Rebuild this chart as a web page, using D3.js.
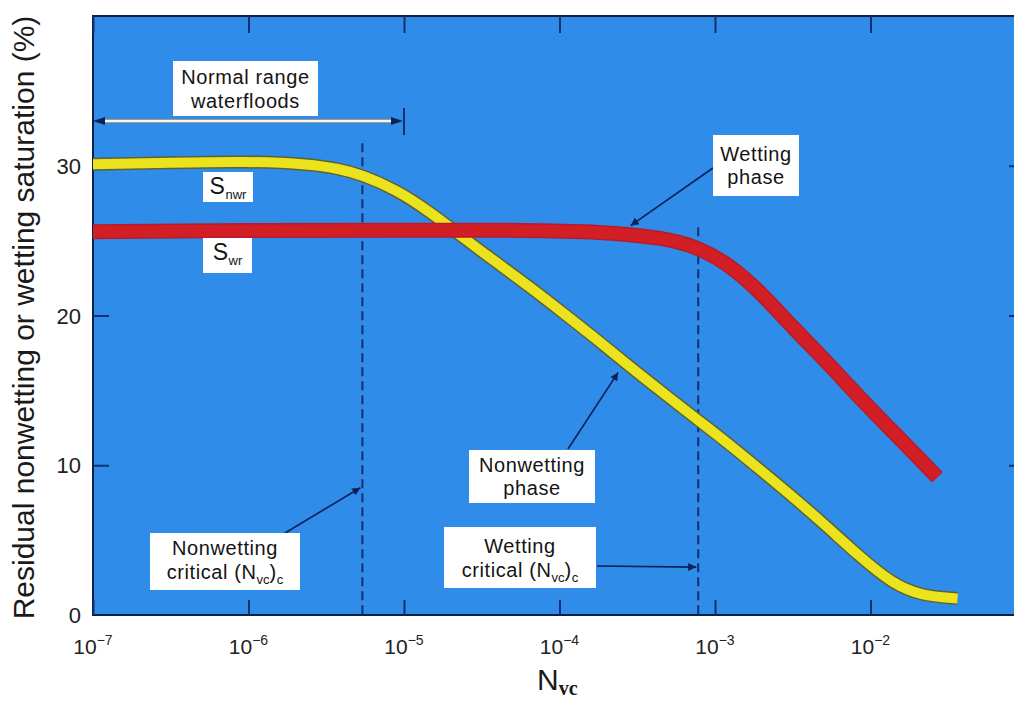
<!DOCTYPE html>
<html>
<head>
<meta charset="utf-8">
<script src="https://cdnjs.cloudflare.com/ajax/libs/d3/7.8.5/d3.min.js"></script>
<style>
  body { margin: 0; background: #fff; }
  svg { display: block; }
  .box text { font-family: "Liberation Sans", Arial, sans-serif; font-size: 20px; letter-spacing: 0.6px; fill: #141414; }
  .tick-label { font-family: "Liberation Sans", Arial, sans-serif; fill: #222; }
</style>
</head>
<body>
<div id="chart"></div>
<script>
// tick values
const xTickExps = [-7, -6, -5, -4, -3, -2];
const yTicks = [0, 10, 20, 30];

// S_nwr, nonwetting phase (yellow): log10(Nvc) and residual saturation (%)
const snwrLogN = [-7, -6.5, -6, -5.6, -5.42, -5.27, -5.05, -4.83, -4.62, -4.4, -4.19, -3.98, -3.76, -3.55, -3.33, -3.12, -2.92, -2.71, -2.5, -2.28, -2.07, -1.86, -1.68, -1.44];
const snwrSat = [30.1, 30.2, 30.3, 30.1, 29.8, 29.4, 28.4, 26.9, 25.2, 23.5, 21.9, 20.2, 18.4, 16.6, 14.8, 13.1, 11.5, 9.7, 7.9, 5.9, 3.9, 2.1, 1.3, 1.1];

// S_wr, wetting phase (red)
const swrLogN = [-7, -6, -5, -4.2, -3.74, -3.33, -3.12, -2.92, -2.71, -2.5, -2.28, -2.07, -1.86, -1.57];
const swrSat = [25.6, 25.7, 25.7, 25.7, 25.6, 25.2, 24.6, 23.5, 21.6, 19.2, 16.9, 14.5, 12.3, 9.2];

// critical capillary numbers (nonwetting, wetting) and the normal waterflood range
const criticalN = [5.4e-6, 7.8e-4];
const criticalTop = [31.5, 25.9];
const normalRange = [1e-7, 1e-5];

const width = 1014;
const height = 701;
const margin = { left: 93, top: 16, bottom: 86 };
const decade = 155.5;

const x = d3.scaleLog()
  .domain([1e-7, 1e-1])
  .range([margin.left, margin.left + 6 * decade]);
const y = d3.scaleLinear()
  .domain([0, 40])
  .range([height - margin.bottom, margin.top]);

const navy = "#10306f";

const svg = d3.select("#chart")
  .append("svg")
  .attr("width", width)
  .attr("height", height);

const defs = svg.append("defs");
defs.append("clipPath").attr("id", "plotClip")
  .append("rect")
  .attr("x", x.range()[0]).attr("y", y.range()[1])
  .attr("width", x.range()[1] - x.range()[0])
  .attr("height", y.range()[0] - y.range()[1]);

defs.append("marker")
  .attr("id", "arrow")
  .attr("viewBox", "0 0 10 10")
  .attr("refX", 10).attr("refY", 5)
  .attr("markerWidth", 11).attr("markerHeight", 8)
  .attr("markerUnits", "userSpaceOnUse")
  .attr("orient", "auto")
  .append("path")
  .attr("d", "M0,0 L10,5 L0,10 z")
  .attr("fill", "#0b2158");

// plot background
svg.append("rect")
  .attr("x", x.range()[0]).attr("y", y.range()[1])
  .attr("width", x.range()[1] - x.range()[0])
  .attr("height", y.range()[0] - y.range()[1])
  .attr("fill", "#2f8ce8")
  .attr("stroke", "#0d1f44")
  .attr("stroke-width", 2);

// ticks (inward, on all four sides)
const xTickVals = xTickExps.map((e) => 10 ** e);
function styleAxis(g) {
  g.select(".domain").remove();
  g.selectAll(".tick line").attr("stroke", navy).attr("stroke-width", 2);
  g.selectAll(".tick text").remove();
}
svg.append("g")
  .attr("transform", `translate(0,${y(0)})`)
  .call(d3.axisBottom(x).tickValues(xTickVals).tickSize(-15).tickFormat(""))
  .call(styleAxis);
svg.append("g")
  .attr("transform", `translate(0,${y(40)})`)
  .call(d3.axisTop(x).tickValues(xTickVals).tickSize(-17).tickFormat(""))
  .call(styleAxis);
svg.append("g")
  .attr("transform", `translate(${x(1e-7)},0)`)
  .call(d3.axisLeft(y).tickValues(yTicks.slice(1)).tickSize(-16).tickFormat(""))
  .call(styleAxis);
svg.append("g")
  .attr("transform", `translate(${x(1e-1)},0)`)
  .call(d3.axisRight(y).tickValues(yTicks.slice(1)).tickSize(-17).tickFormat(""))
  .call(styleAxis);

// tick labels
svg.append("g").selectAll("text")
  .data(yTicks)
  .join("text")
  .attr("class", "tick-label")
  .attr("x", 81)
  .attr("y", (d) => y(d) + 8)
  .attr("text-anchor", "end")
  .style("font-size", "22px")
  .text((d) => d);

const xLab = svg.append("g").selectAll("text")
  .data(xTickExps)
  .join("text")
  .attr("class", "tick-label")
  .attr("x", (d) => x(10 ** d))
  .attr("y", 654)
  .attr("text-anchor", "middle")
  .style("font-size", "21px");
xLab.append("tspan").text("10");
xLab.append("tspan")
  .attr("dy", -9)
  .style("font-size", "14px")
  .text((d) => "\u2212" + Math.abs(d));

// axis titles
svg.append("text")
  .attr("transform", `translate(34,${(y(0) + y(40)) / 2 + 2}) rotate(-90)`)
  .attr("text-anchor", "middle")
  .style("font-family", "Liberation Sans, Arial, sans-serif")
  .style("font-size", "30px")
  .style("fill", "#1a1a1a")
  .text("Residual nonwetting or wetting saturation (%)");

const xTitle = svg.append("text")
  .attr("x", 537)
  .attr("y", 690)
  .style("font-family", "Liberation Sans, Arial, sans-serif")
  .style("font-size", "30px")
  .style("fill", "#1a1a1a");
xTitle.append("tspan").text("N");
xTitle.append("tspan")
  .attr("dy", 5)
  .style("font-family", "Liberation Serif, serif")
  .style("font-weight", "bold")
  .style("font-size", "20px")
  .text("vc");

const plot = svg.append("g").attr("clip-path", "url(#plotClip)");

// dashed critical lines
plot.selectAll(".crit")
  .data(criticalN)
  .join("line")
  .attr("class", "crit")
  .attr("x1", (d) => x(d)).attr("x2", (d) => x(d))
  .attr("y1", (d, i) => y(criticalTop[i]))
  .attr("y2", y(0))
  .attr("stroke", navy)
  .attr("stroke-width", 2)
  .attr("stroke-dasharray", "9,5");

// curves
const line = d3.line()
  .x((d) => x(10 ** d[0]))
  .y((d) => y(d[1]))
  .curve(d3.curveBasis);

const snwr = snwrLogN.map((v, i) => [v, snwrSat[i]]);
const swr = swrLogN.map((v, i) => [v, swrSat[i]]);

plot.append("path")
  .attr("d", line(snwr))
  .attr("fill", "none")
  .attr("stroke", "#5c6233")
  .attr("stroke-width", 13);
plot.append("path")
  .attr("d", line(snwr))
  .attr("fill", "none")
  .attr("stroke", "#ece31f")
  .attr("stroke-width", 10);

plot.append("path")
  .attr("d", line(swr))
  .attr("fill", "none")
  .attr("stroke", "#b81a2a")
  .attr("stroke-width", 15);
plot.append("path")
  .attr("d", line(swr))
  .attr("fill", "none")
  .attr("stroke", "#d21f26")
  .attr("stroke-width", 12);

// normal range waterfloods arrow
const nrY = 121;
const nrX0 = x(normalRange[0]) + 8;
const nrX1 = x(normalRange[1]) - 7;
svg.append("line")
  .attr("x1", nrX0).attr("x2", nrX1).attr("y1", nrY).attr("y2", nrY)
  .attr("stroke", "#6d7f96").attr("stroke-width", 5);
svg.append("line")
  .attr("x1", nrX0).attr("x2", nrX1).attr("y1", nrY).attr("y2", nrY)
  .attr("stroke", "#f4f6f8").attr("stroke-width", 2.5);
svg.append("path")
  .attr("d", `M${nrX0 - 8},${nrY} L${nrX0 + 4},${nrY - 4} L${nrX0 + 4},${nrY + 4} z`)
  .attr("fill", "#0b2158");
svg.append("path")
  .attr("d", `M${nrX1 + 6},${nrY} L${nrX1 - 6},${nrY - 4} L${nrX1 - 6},${nrY + 4} z`)
  .attr("fill", "#0b2158");
svg.append("line")
  .attr("x1", x(normalRange[1])).attr("x2", x(normalRange[1]))
  .attr("y1", nrY - 13).attr("y2", nrY + 14)
  .attr("stroke", navy).attr("stroke-width", 2);

// annotation arrows: start in pixels, tip on data
const arrows = [
  { from: [713, 168], to: [10 ** -3.53, 26.0] },
  { from: [568, 449], to: [10 ** -3.61, 16.2] },
  { from: [285, 533], to: [criticalN[0], 8.5] },
  { from: [597, 566], to: [criticalN[1], 3.2] }
];
svg.selectAll(".ann-arrow")
  .data(arrows)
  .join("line")
  .attr("class", "ann-arrow")
  .attr("x1", (d) => d.from[0]).attr("y1", (d) => d.from[1])
  .attr("x2", (d) => x(d.to[0]) - 2).attr("y2", (d) => y(d.to[1]))
  .attr("stroke", "#0b2158")
  .attr("stroke-width", 1.6)
  .attr("marker-end", "url(#arrow)");

// label boxes
const boxes = [
  { x0: 173, y0: 61, x1: 318, y1: 116, lines: [[["Normal range"]], [["waterfloods"]]], base: [84, 108] },
  { x0: 713, y0: 135, x1: 799, y1: 196, lines: [[["Wetting"]], [["phase"]]], base: [161, 184] },
  { x0: 469, y0: 450, x1: 595, y1: 503, lines: [[["Nonwetting"]], [["phase"]]], base: [472, 495] },
  { x0: 150, y0: 533, x1: 300, y1: 590, lines: [[["Nonwetting"]], [["critical (N"], ["vc", 1], [")"], ["c", 1]]], base: [555, 579] },
  { x0: 444, y0: 527, x1: 596, y1: 588, lines: [[["Wetting"]], [["critical (N"], ["vc", 1], [")"], ["c", 1]]], base: [553, 577] },
  { x0: 203, y0: 172, x1: 253, y1: 202, lines: [[["S", 2], ["nwr", 1]]], base: [194] },
  { x0: 203, y0: 238, x1: 252, y1: 273, lines: [[["S", 2], ["wr", 1]]], base: [260] }
];

const boxG = svg.selectAll(".box")
  .data(boxes)
  .join("g")
  .attr("class", "box");
boxG.append("rect")
  .attr("x", (d) => d.x0).attr("y", (d) => d.y0)
  .attr("width", (d) => d.x1 - d.x0).attr("height", (d) => d.y1 - d.y0)
  .attr("fill", "#fff");
boxG.each(function (d) {
  const g = d3.select(this);
  d.lines.forEach((segs, i) => {
    const t = g.append("text")
      .attr("x", (d.x0 + d.x1) / 2)
      .attr("y", d.base[i])
      .attr("text-anchor", "middle");
    let shift = 0;
    segs.forEach(([s, kind]) => {
      const span = t.append("tspan").text(s);
      if (kind === 1) {
        span.style("font-size", "13px").style("letter-spacing", "0px").attr("dy", 5 - shift);
        shift = 5;
      } else {
        if (kind === 2) span.style("font-size", "23px");
        if (shift) span.attr("dy", -shift);
        shift = 0;
      }
    });
  });
});
</script>
</body>
</html>
